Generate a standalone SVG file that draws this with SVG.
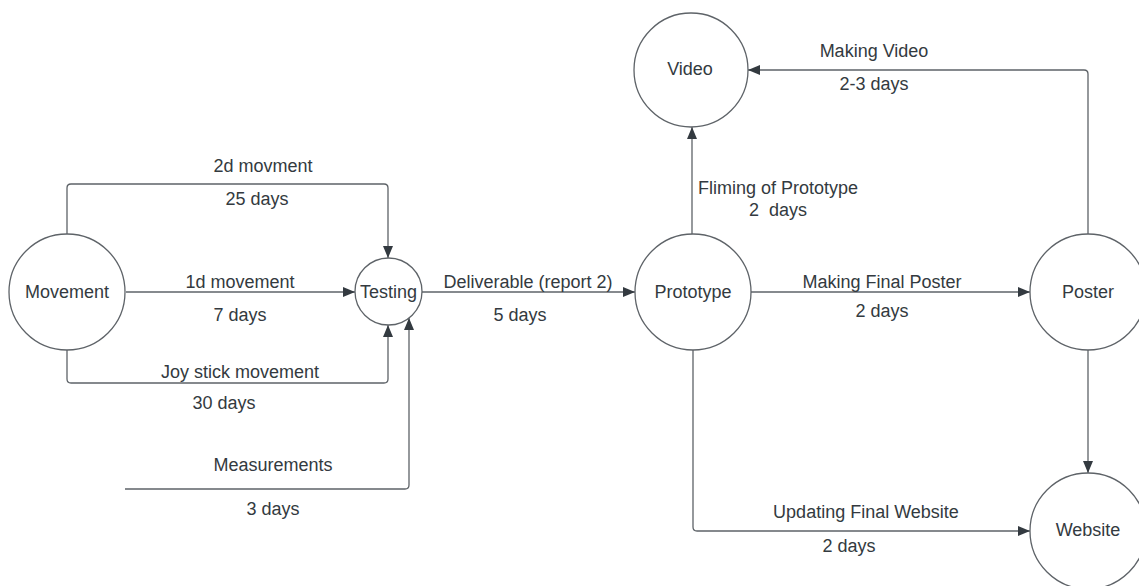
<svg xmlns="http://www.w3.org/2000/svg" width="1139" height="586" viewBox="0 0 1139 586">
<style>
.node circle{fill:#ffffff;stroke:#5e6368;stroke-width:1.3}
text{font-family:"Liberation Sans",Arial,sans-serif;font-size:18px;fill:#333a40;text-anchor:middle}
.pre{white-space:pre}
.conn path{fill:none;stroke:#5e6368;stroke-width:1.3}
</style>
<defs>
<marker id="arr" viewBox="0 0 12 10" refX="12" refY="5" markerWidth="12" markerHeight="10" markerUnits="userSpaceOnUse" orient="auto">
<path d="M0,0 L12,5 L0,10 Z" fill="#333a40"/>
</marker>
</defs>
<rect width="1139" height="586" fill="#ffffff"/>
<g id="connectors" class="conn">
<path id="c-2d" d="M67,234 V188 Q67,184 71,184 H384 Q388,184 388,188 V258" marker-end="url(#arr)"/>
<path id="c-1d" d="M126,292 H355" marker-end="url(#arr)"/>
<path id="c-joy" d="M67,350 V379 Q67,383 71,383 H384 Q388,383 388,379 V325" marker-end="url(#arr)"/>
<path id="c-meas" d="M125,489 H405 Q409,489 409,485 V318" marker-end="url(#arr)"/>
<path id="c-deliv" d="M422,292 H635" marker-end="url(#arr)"/>
<path id="c-film" d="M692,234 V127" marker-end="url(#arr)"/>
<path id="c-vid" d="M1088,234 V74 Q1088,70 1084,70 H748" marker-end="url(#arr)"/>
<path id="c-poster" d="M751,292 H1030" marker-end="url(#arr)"/>
<path id="c-pw" d="M1088,350 V473" marker-end="url(#arr)"/>
<path id="c-web" d="M693,350 V527 Q693,531 697,531 H1030" marker-end="url(#arr)"/>
</g>
<g id="labels">
<text x="263" y="172">2d movment</text>
<text x="257" y="205">25 days</text>
<text x="240" y="288">1d movement</text>
<text x="240" y="321">7 days</text>
<text x="240" y="378">Joy stick movement</text>
<text x="224" y="409">30 days</text>
<text x="273" y="471">Measurements</text>
<text x="273" y="515">3 days</text>
<text x="528" y="288">Deliverable (report 2)</text>
<text x="520" y="321">5 days</text>
<text x="778" y="194">Fliming of Prototype</text>
<text x="778" y="216" class="pre" xml:space="preserve">2  days</text>
<text x="874" y="57">Making Video</text>
<text x="874" y="90">2-3 days</text>
<text x="882" y="288">Making Final Poster</text>
<text x="882" y="317">2 days</text>
<text x="866" y="518">Updating Final Website</text>
<text x="849" y="552">2 days</text>
</g>
<g id="n-movement" class="node"><circle cx="67" cy="292" r="58"/><text x="67" y="298">Movement</text></g>
<g id="n-testing" class="node"><circle cx="388.5" cy="291.5" r="33.5"/><text x="388.5" y="298">Testing</text></g>
<g id="n-prototype" class="node"><circle cx="693" cy="292" r="58"/><text x="693" y="298">Prototype</text></g>
<g id="n-video" class="node"><circle cx="691" cy="70" r="57"/><text x="690" y="75">Video</text></g>
<g id="n-poster" class="node"><circle cx="1088" cy="292" r="58"/><text x="1088" y="298">Poster</text></g>
<g id="n-website" class="node"><circle cx="1088" cy="531" r="58"/><text x="1088" y="536">Website</text></g>
</svg>
